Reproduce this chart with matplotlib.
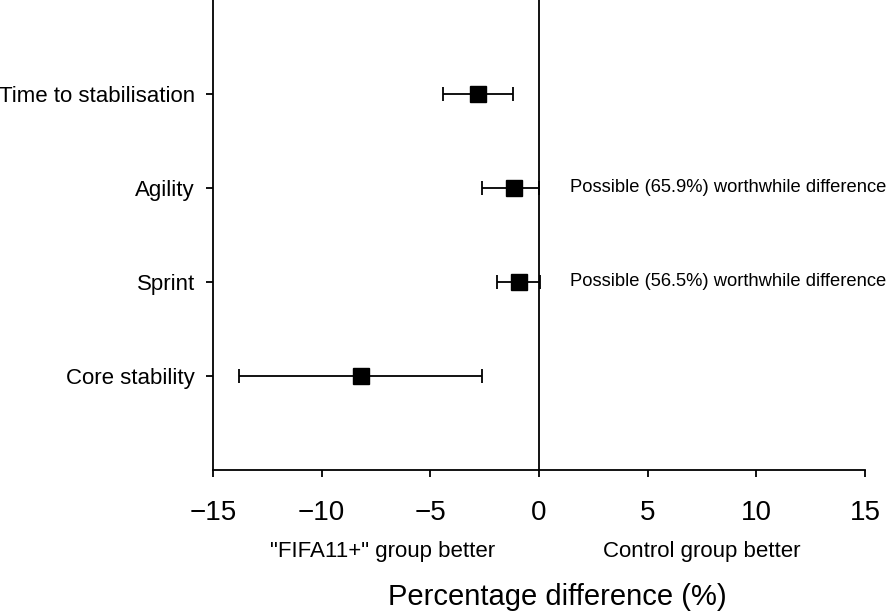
import matplotlib
matplotlib.use("Agg")
import matplotlib.pyplot as plt

plt.rcParams['font.family'] = ['Liberation Sans', 'DejaVu Sans']

outcomes = ["Time to stabilisation", "Agility", "Sprint", "Core stability"]
mean_diff = [-2.8, -1.15, -0.92, -8.2]
ci_low = [-4.4, -2.6, -1.93, -13.8]
ci_high = [-1.2, 0.0, 0.05, -2.6]
annotations = ["", "Possible (65.9%) worthwhile difference",
               "Possible (56.5%) worthwhile difference", ""]
xticks = [-15, -10, -5, 0, 5, 10, 15]

W, H = 886, 613
fig = plt.figure(figsize=(W / 100, H / 100), dpi=100)
ax = fig.add_axes([213 / W, 1 - 470 / H, (865 - 213) / W, 470 / H])

ypos = list(range(1, len(outcomes) + 1))
err_lo = [m - l for m, l in zip(mean_diff, ci_low)]
err_hi = [h - m for m, h in zip(mean_diff, ci_high)]
ax.errorbar(mean_diff, ypos, xerr=[err_lo, err_hi], fmt='s', color='black',
            ms=11, capsize=5, elinewidth=1.3, capthick=1.3, zorder=3)

ax.axvline(0, color='black', lw=1.3, zorder=2)

for y, txt in zip(ypos, annotations):
    if txt:
        ax.text(1.42, y, txt, fontsize=13.2, va='center', ha='left')

ax.set_xlim(-15, 15)
ax.set_ylim(5, 0)
ax.set_xticks(xticks)
ax.set_xticklabels(["\u2212%d" % abs(v) if v < 0 else str(v) for v in xticks])
ax.set_yticks(ypos)
ax.set_yticklabels(outcomes, fontsize=16)
ax.tick_params(axis='x', labelsize=20, length=5, width=1.3, pad=16.5, direction='out')
ax.tick_params(axis='y', length=5, width=1.3, pad=8, direction='out')
for s in ['top', 'right']:
    ax.spines[s].set_visible(False)
for s in ['left', 'bottom']:
    ax.spines[s].set_linewidth(1.3)

fig.text(270 / W, 1 - 551 / H, '"FIFA11+" group better', fontsize=16, ha='left', va='center')
fig.text(603 / W, 1 - 551 / H, 'Control group better', fontsize=16, ha='left', va='center')
fig.text(557 / W, 1 - 597 / H, 'Percentage difference (%)', fontsize=21, ha='center', va='center')

fig.savefig('out.png', dpi=100)
